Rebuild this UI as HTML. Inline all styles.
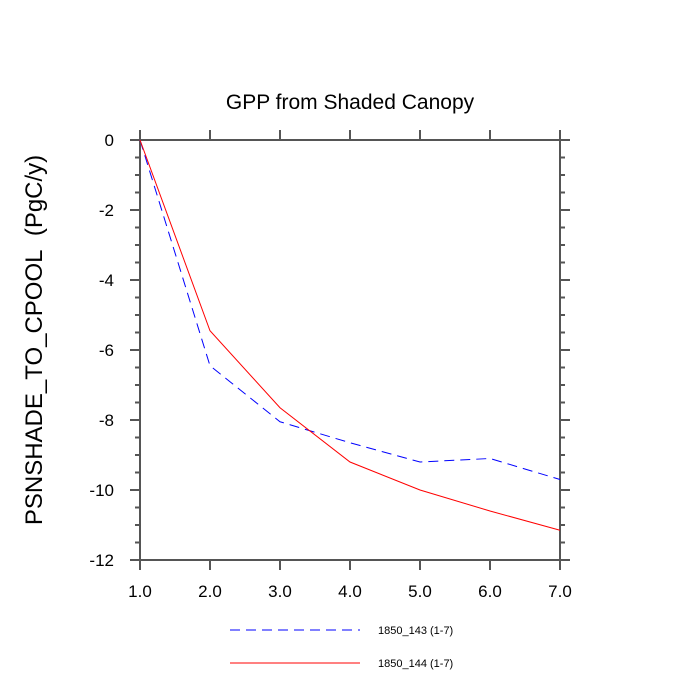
<!DOCTYPE html>
<html><head><style>body{margin:0;background:#fff}svg{display:block}text{font-family:"Liberation Sans",sans-serif}</style></head>
<body>
<svg id="c" width="700" height="700">
<text x="350" y="109" font-size="21" text-anchor="middle">GPP from Shaded Canopy</text>
<text transform="translate(42,340) rotate(-90)" font-size="24" text-anchor="middle">PSNSHADE_TO_CPOOL&#160; (PgC/y)</text>
<g id="ax"></g><g id="ln"></g>
<g>
<line x1="230" y1="630" x2="360" y2="630" stroke="#0000ff" stroke-dasharray="10,6"/>
<text x="378" y="634" font-size="11">1850_143 (1-7)</text>
<line x1="230" y1="663" x2="360" y2="663" stroke="#ff0000"/>
<text x="378" y="667" font-size="11">1850_144 (1-7)</text>
</g>
</svg>
<script>
const xCats=[1,2,3,4,5,6,7];
const s143=[0,-6.45,-8.05,-8.65,-9.2,-9.1,-9.7];
const s144=[0,-5.45,-7.65,-9.2,-10.0,-10.6,-11.15];
const yTicks=[0,-2,-4,-6,-8,-10,-12];
const xTickLabels=["1.0","2.0","3.0","4.0","5.0","6.0","7.0"];
const NS="http://www.w3.org/2000/svg";
const X=v=>140+(v-1)*70, Y=v=>140-v*35;
const ax=document.getElementById('ax'), ln=document.getElementById('ln');
function mk(p,t,a){const e=document.createElementNS(NS,t);for(const k in a)e.setAttribute(k,a[k]);p.appendChild(e);return e;}
const g='#555';
const fr=mk(ax,'rect',{x:140,y:140,width:420,height:420,fill:'none',stroke:g,'stroke-width':2});


for(let v=0;v>=-12;v-=0.5){const maj=v%2===0,L=maj?10:5;
 mk(ax,'line',{x1:140-L,y1:Y(v),x2:140,y2:Y(v),stroke:g,'stroke-width':2});
 mk(ax,'line',{x1:560,y1:Y(v),x2:560+L,y2:Y(v),stroke:g,'stroke-width':2});}
yTicks.forEach(v=>{const t=mk(ax,'text',{x:114,y:Y(v)+6,'font-size':17,'text-anchor':'end'});t.textContent=v;

});
xCats.forEach((v,i)=>{
 mk(ax,'line',{x1:X(v),y1:560,x2:X(v),y2:570,stroke:g,'stroke-width':2});
 mk(ax,'line',{x1:X(v),y1:130,x2:X(v),y2:140,stroke:g,'stroke-width':2});
 const t=mk(ax,'text',{x:X(v),y:597,'font-size':17,'text-anchor':'middle'});t.textContent=xTickLabels[i];
 
 });
const p1=mk(ln,'polyline',{points:xCats.map((v,i)=>X(v)+','+Y(s143[i])).join(' '),fill:'none',stroke:'#0000ff','stroke-dasharray':'10,6'});


const p2=mk(ln,'polyline',{points:xCats.map((v,i)=>X(v)+','+Y(s144[i])).join(' '),fill:'none',stroke:'#ff0000'});


</script>
</body></html>
